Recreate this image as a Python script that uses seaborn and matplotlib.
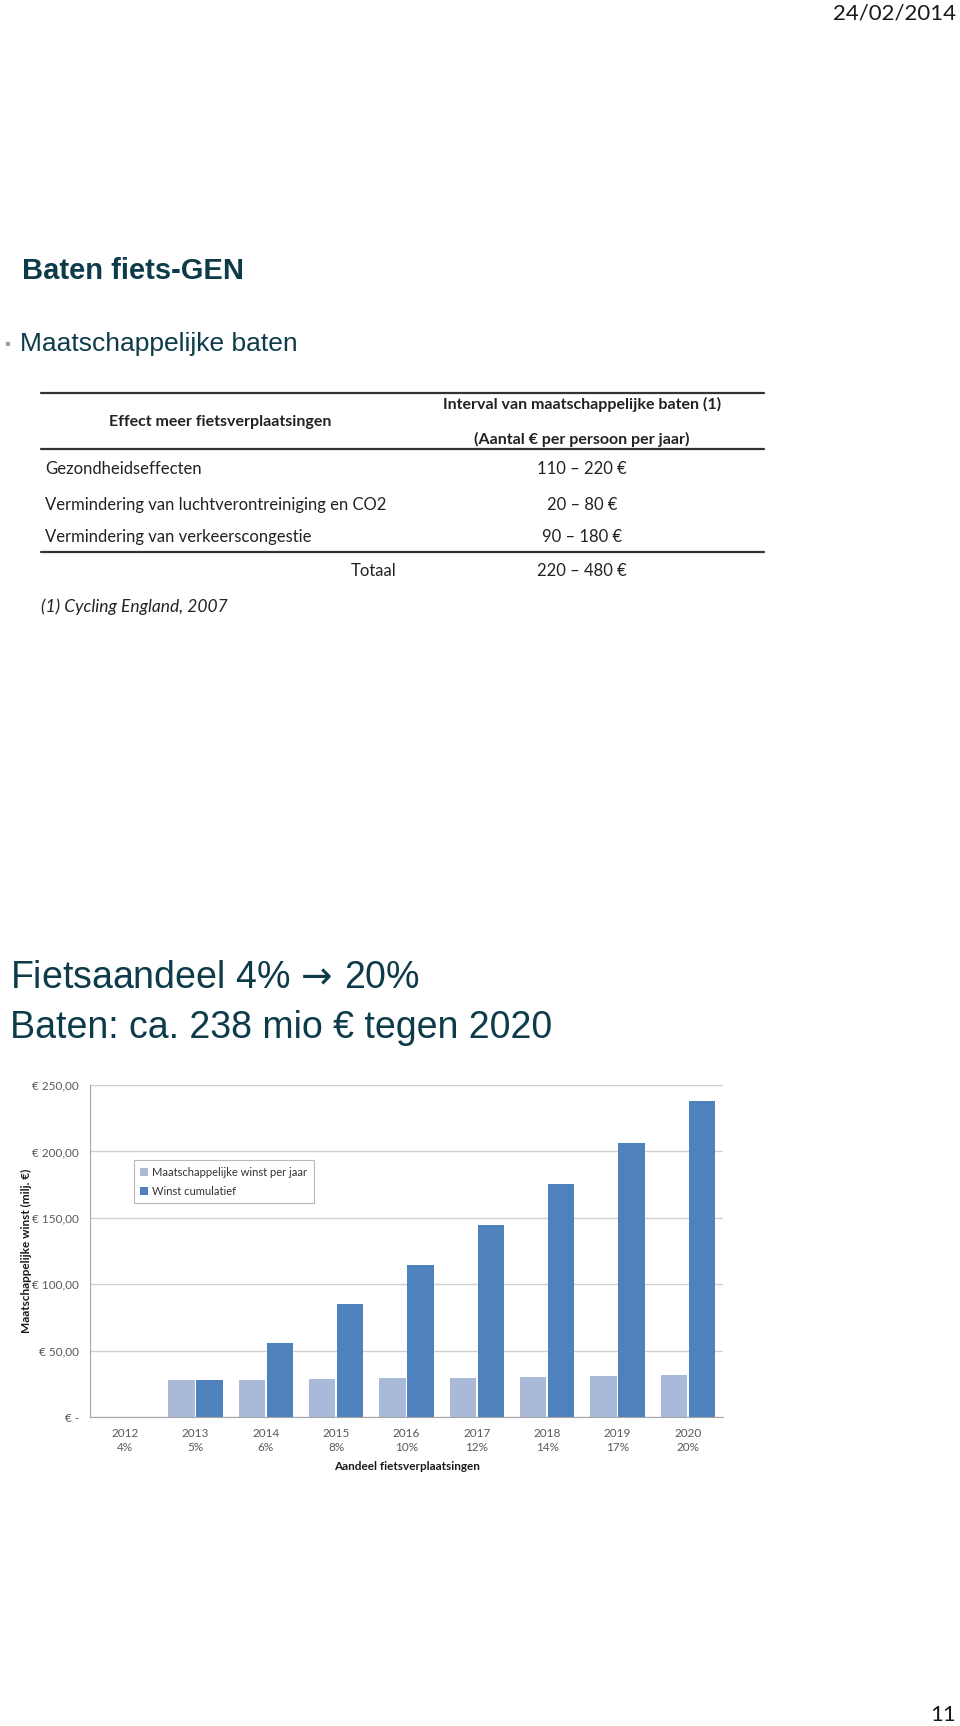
import pandas as pd
import seaborn as sns
import matplotlib.pyplot as plt
from matplotlib.lines import Line2D

# Data
jaren = ["2012", "2013", "2014", "2015", "2016", "2017", "2018", "2019", "2020"]
aandeel = ["4%", "5%", "6%", "8%", "10%", "12%", "14%", "17%", "20%"]
winst_per_jaar = [0, 28.1, 28.3, 28.8, 29.3, 29.8, 30.3, 31.0, 31.6]
winst_cumulatief = [0, 28.1, 56.1, 85.0, 114.4, 144.7, 175.5, 206.6, 238.2]
reeksen = ["Maatschappelijke winst per jaar", "Winst cumulatief"]
y_ticks = [0, 50, 100, 150, 200, 250]
y_labels = ["€ -", "€ 50,00", "€ 100,00", "€ 150,00", "€ 200,00", "€ 250,00"]

effecten = ["Gezondheidseffecten",
            "Vermindering van luchtverontreiniging en CO2",
            "Vermindering van verkeerscongestie"]
intervallen = ["110 – 220 €", "20 – 80 €", "90 – 180 €"]
totaal = "220 – 480 €"

df = pd.DataFrame({
    "jaar": jaren * 2,
    "waarde": winst_per_jaar + winst_cumulatief,
    "reeks": [reeksen[0]] * len(jaren) + [reeksen[1]] * len(jaren),
})

sns.set_style("white")
plt.rcParams["font.family"] = ["Lato", "DejaVu Sans"]

W, H = 960, 1726
fig = plt.figure(figsize=(W / 100, H / 100), dpi=100)


def fx(x):
    return x / W


def fy(y):
    return 1 - y / H


teal = "#0D3B4A"
arial = ["Liberation Sans", "DejaVu Sans"]

# Header
fig.text(fx(956), fy(13), "24/02/2014", ha="right", va="center", fontsize=16, color="#1a1a1a")
fig.text(fx(22), fy(271), "Baten fiets-GEN", ha="left", va="center", fontsize=21,
         fontweight="bold", color=teal, family=arial)
fig.text(fx(4), fy(344), "▪", ha="left", va="center", fontsize=12, color="#A0A0A0", family=arial)
fig.text(fx(20), fy(344), "Maatschappelijke baten", ha="left", va="center", fontsize=19,
         color=teal, family=arial)

# Table
for y in [393, 449, 552]:
    fig.add_artist(Line2D([fx(41), fx(764)], [fy(y), fy(y)], transform=fig.transFigure,
                          color="#333333", lw=1.6))
fig.text(fx(582), fy(404), "Interval van maatschappelijke baten (1)", ha="center", va="center",
         fontsize=11.5, fontweight="bold", color="#222222")
fig.text(fx(220), fy(422), "Effect meer fietsverplaatsingen", ha="center", va="center",
         fontsize=11.5, fontweight="bold", color="#222222")
fig.text(fx(582), fy(439), "(Aantal € per persoon per jaar)", ha="center", va="center",
         fontsize=11.5, fontweight="bold", color="#222222")
for i, (eff, itv) in enumerate(zip(effecten, intervallen)):
    y = [469, 505, 537][i]
    fig.text(fx(45), fy(y), eff, ha="left", va="center", fontsize=12, color="#222222")
    fig.text(fx(582), fy(y), itv, ha="center", va="center", fontsize=12, color="#222222")
fig.text(fx(374), fy(571), "Totaal", ha="center", va="center", fontsize=12, color="#222222")
fig.text(fx(582), fy(571), totaal, ha="center", va="center", fontsize=12, color="#222222")
fig.text(fx(41), fy(607), "(1) Cycling England, 2007", ha="left", va="center", fontsize=12.5,
         style="italic", color="#222222")

# Big statement
fig.text(fx(10), fy(978), r"Fietsaandeel 4% $\!\rightarrow\!$ 20%", ha="left", va="center",
         fontsize=27, color=teal, family=arial)
fig.text(fx(10), fy(1028), "Baten: ca. 238 mio € tegen 2020", ha="left", va="center", fontsize=27,
         color=teal, family=arial)

# Chart
ax = fig.add_axes([fx(90), fy(1417.3), (723 - 90) / W, (1417.3 - 1085) / H])
sns.barplot(data=df, x="jaar", y="waarde", hue="reeks", palette=["#A9B9D8", "#4F81BD"],
            saturation=1, width=0.8, gap=0.06, ax=ax, edgecolor="none")
ax.set_ylim(0, 250)
ax.set_yticks(y_ticks)
ax.set_yticklabels(y_labels, fontsize=8.5, color="#595959")
ax.set_xticks(range(len(jaren)))
ax.set_xticklabels([f"{j}\n{a}" for j, a in zip(jaren, aandeel)], fontsize=8.5, color="#595959",
                   linespacing=1.3)
ax.tick_params(axis="y", length=4, color="#BFBFBF", width=1, pad=4)
ax.tick_params(axis="x", length=0, pad=8)
ax.yaxis.grid(True, color="#D0D0D0", lw=1)
ax.set_axisbelow(True)
for s in ["top", "right"]:
    ax.spines[s].set_visible(False)
for s in ["left", "bottom"]:
    ax.spines[s].set_color("#A6A6A6")
ax.set_xlabel("Aandeel fietsverplaatsingen", fontsize=8.5, fontweight="bold", color="#1a1a1a",
              labelpad=6)
ax.set_ylabel("Maatschappelijke winst (milj. €)", fontsize=8.5, fontweight="bold", color="#1a1a1a",
              labelpad=0)
leg = ax.legend(loc="upper left", bbox_to_anchor=(0.060, 0.790), fontsize=8, frameon=True,
                fancybox=False, edgecolor="#A6A6A6", handlelength=0.7, handleheight=0.7,
                handletextpad=0.4, borderpad=0.6, labelspacing=0.7, title=None)
leg.get_frame().set_linewidth(0.8)
for t in leg.get_texts():
    t.set_color("#333333")

# Page number
fig.text(fx(956), fy(1715), "11", ha="right", va="center", fontsize=16, color="#1a1a1a")

fig.savefig("out.png", dpi=100)
